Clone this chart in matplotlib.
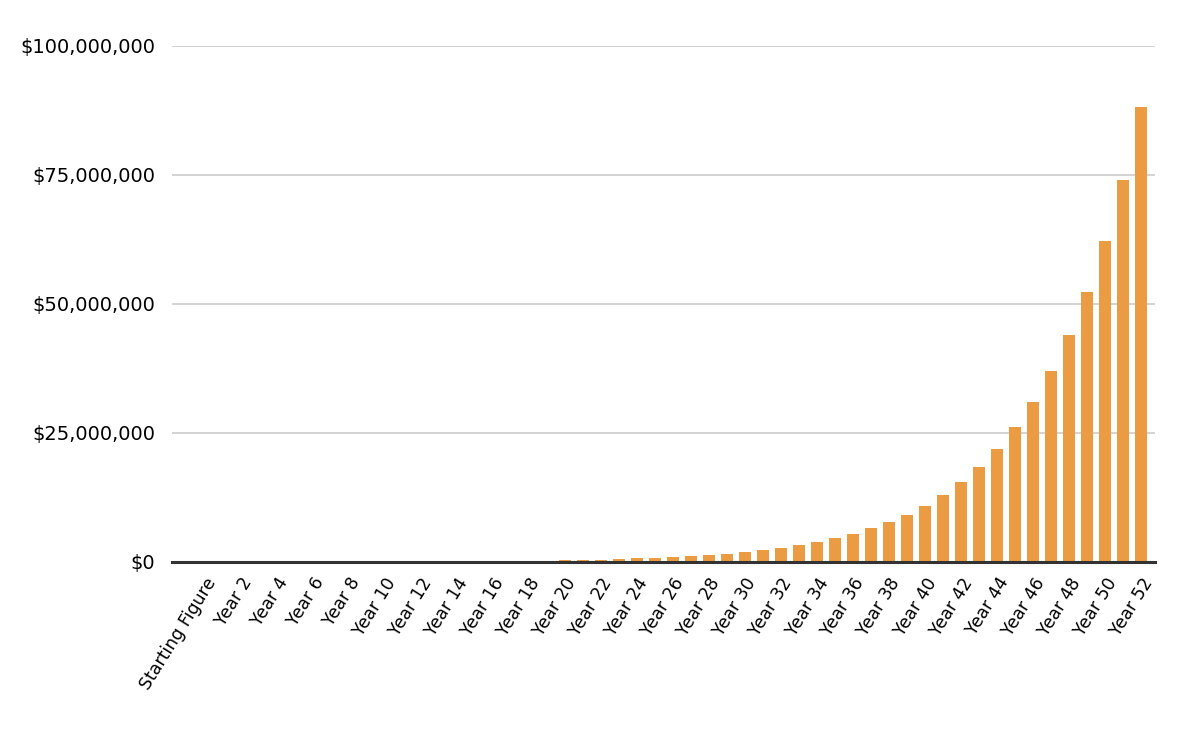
import matplotlib.pyplot as plt
from matplotlib.ticker import FuncFormatter

BAR_COLOR = "#EB9B42"
GRID_COLOR = "#CCCCCC"

# balance per period
categories = ["Starting Figure"] + [f"Year {n}" for n in range(1, 53)]
balances = [
    10400, 12400, 14700, 17500, 20900, 24800, 29500, 35100, 41800, 49800,
    59200, 70500, 83900, 99800, 118800, 141300, 168200, 200100, 238200, 283400,
    337300, 401300, 477600, 568300, 676300, 804800, 957800, 1139700, 1356300, 1614000,
    1920600, 2285500, 2719800, 3236600, 3851500, 4583300, 5454100, 6490400, 7723600, 9191000,
    10937300, 13015400, 15488400, 18431200, 21933100, 26100400, 31059400, 36960700, 43983300, 52339000,
    62284500, 74118600, 88201100,
]
y_ticks = [0, 25_000_000, 50_000_000, 75_000_000, 100_000_000]

fig = plt.figure(figsize=(11.84, 7.38), dpi=100)
ax = fig.add_axes([0.145, 0.2385, 0.8305, 0.6992])

x = list(range(len(categories)))
ax.bar(x, balances, width=0.66, color=BAR_COLOR, zorder=3)

ax.set_ylim(0, 100_000_000)
ax.set_xlim(-1.83, len(categories) - 0.22)
ax.set_yticks(y_ticks)
ax.yaxis.set_major_formatter(FuncFormatter(lambda v, _: f"${v:,.0f}"))
ax.grid(axis="y", color=GRID_COLOR, linewidth=1.2, zorder=0)
ax.axhline(0, color="#333333", linewidth=2.2, zorder=4, clip_on=False)

ax.set_xticks(x[::2])
ax.set_xticklabels(categories[::2], rotation=58, ha="right", rotation_mode="anchor", fontsize=12.5)
ax.tick_params(axis="both", length=0)
ax.tick_params(axis="y", labelsize=14, pad=12)
ax.tick_params(axis="x", pad=9)

for spine in ax.spines.values():
    spine.set_visible(False)

fig.savefig("out.png", dpi=100)
